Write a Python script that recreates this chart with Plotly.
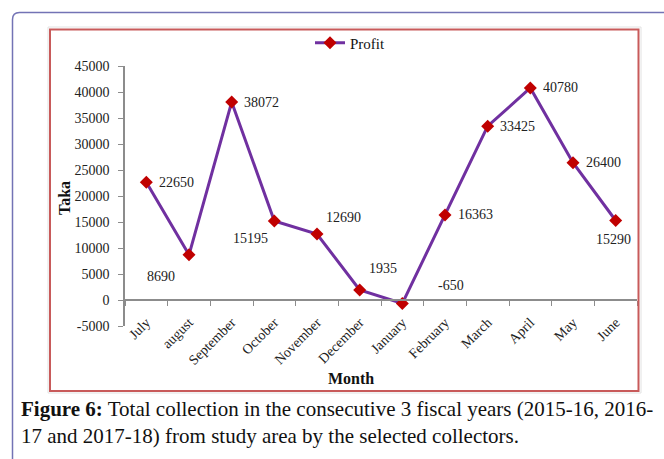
import plotly.graph_objects as go

months = ["July", "august", "September", "October", "November", "December",
          "January", "February", "March", "April", "May", "June"]
profit = [22650, 8690, 38072, 15195, 12690, 1935, -650, 16363, 33425, 40780, 26400, 15290]
y_ticks = [-5000, 0, 5000, 10000, 15000, 20000, 25000, 30000, 35000, 40000, 45000]
y_tick_labels = [str(v) for v in y_ticks]
# label offsets (pixels) for data labels
label_dx = [30, -28, 30, -24, 26, 23, 49, 30, 30, 30, 30, -2]
label_dy = [0, -22, 0, -18, 17, 21, 18, 0, 0, 0, 0, -19]

W, H = 664, 459
PX0, PX1, PY0, PY1 = 125, 637, 66, 326


def px(x):
    return (x - PX0) / (PX1 - PX0)


def py(y):
    return (PY1 - y) / (PY1 - PY0)


SERIF = "Liberation Serif, Times New Roman, serif"

fig = go.Figure()
fig.add_trace(go.Scatter(
    x=months, y=profit, mode="lines+markers", name="Profit",
    line=dict(color="#7030a0", width=3),
    marker=dict(symbol="diamond", size=10, color="#c00000"),
))

annotations = []
for m, v, dx, dy in zip(months, profit, label_dx, label_dy):
    annotations.append(dict(
        x=m, y=v, xref="x", yref="y", text=str(v), showarrow=False,
        xshift=dx, yshift=dy, font=dict(family=SERIF, size=14, color="#222222"),
    ))

annotations.append(dict(
    x=px(351), y=py(378), xref="paper", yref="paper", text="<b>Month</b>",
    showarrow=False, font=dict(family=SERIF, size=16, color="#111111"),
    xanchor="center", yanchor="middle",
))
annotations.append(dict(
    x=px(64), y=py(198), xref="paper", yref="paper", text="<b>Taka</b>",
    showarrow=False, textangle=-90, font=dict(family=SERIF, size=16, color="#111111"),
    xanchor="center", yanchor="middle",
))
annotations.append(dict(
    x=px(19), y=py(395), xref="paper", yref="paper",
    text="<b>Figure 6:</b> Total collection in the consecutive 3 fiscal years (2015-16, 2016-<br>"
         "17 and 2017-18) from study area by the selected collectors.",
    showarrow=False, align="left", xanchor="left", yanchor="top",
    font=dict(family=SERIF, size=21, color="#111111"),
))

r = 7
x0, y0 = 12.5, 12.5
purple_path = (
    f"M {px(x0)} {py(H + 10)} L {px(x0)} {py(y0 + r)} "
    f"Q {px(x0)} {py(y0)} {px(x0 + r)} {py(y0)} L {px(W + 10)} {py(y0)}"
)

shapes = [
    dict(type="path", xref="paper", yref="paper", path=purple_path,
         line=dict(color="#7373b5", width=1.5)),
    dict(type="rect", xref="paper", yref="paper",
         x0=px(48), x1=px(641), y0=py(27), y1=py(393),
         line=dict(color="#e2e2e2", width=1)),
    dict(type="rect", xref="paper", yref="paper",
         x0=px(50), x1=px(638.5), y0=py(29.5), y1=py(391),
         line=dict(color="#c85a5a", width=2)),
]

fig.update_layout(
    width=W, height=H,
    margin=dict(l=PX0, r=W - PX1, t=PY0, b=H - PY1),
    paper_bgcolor="white", plot_bgcolor="white",
    showlegend=True,
    legend=dict(orientation="h", x=px(310), y=py(43), xanchor="left", yanchor="middle",
                font=dict(family=SERIF, size=15, color="#111111"),
                bgcolor="rgba(0,0,0,0)", itemwidth=30, tracegroupgap=0),
    xaxis=dict(type="category", range=[-0.5, 11.5], anchor="free", position=0.1,
               showline=True, linecolor="#8c8c8c", linewidth=1.5,
               ticks="outside", ticklen=5, tickcolor="#8c8c8c", tickson="boundaries",
               tickangle=-45, showgrid=False, zeroline=False, ticklabelstandoff=8,
               tickfont=dict(family=SERIF, size=14, color="#222222")),
    yaxis=dict(range=[-5000, 45000], tickvals=y_ticks, ticktext=y_tick_labels,
               showline=True, linecolor="#8c8c8c", linewidth=1.5,
               ticks="outside", ticklen=5, tickcolor="#8c8c8c",
               showgrid=False, zeroline=False, ticklabelstandoff=6,
               tickfont=dict(family=SERIF, size=14, color="#222222")),
    annotations=annotations,
    shapes=shapes,
)

fig.write_html("out.html")
